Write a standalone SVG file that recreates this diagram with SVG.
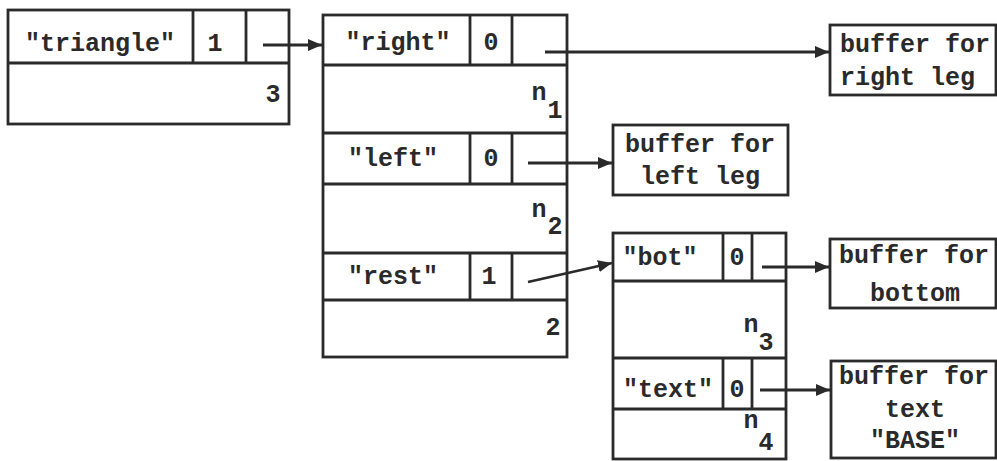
<svg xmlns="http://www.w3.org/2000/svg" width="997" height="461" viewBox="0 0 997 461">
<defs>
<style>
.b{fill:none;stroke:#2a2a2a;stroke-width:2.8}
.t{font-family:"Liberation Mono","DejaVu Sans Mono",monospace;font-weight:bold;font-size:25px;fill:#2a2a2a}
.m{text-anchor:middle}
.c{stroke:#2a2a2a;stroke-width:2.8;fill:none}
</style>
<marker id="ah" viewBox="0 0 14 12" refX="14" refY="6" markerWidth="14" markerHeight="12" markerUnits="userSpaceOnUse" orient="auto">
<path d="M0,0 L14,6 L0,12 Z" fill="#2a2a2a"/>
</marker>
</defs>
<rect width="997" height="461" fill="#fff"/>

<g id="triangle">
<rect class="b" x="8" y="10" width="281" height="114"/>
<path class="b" d="M8,63 H289 M193,10 V63 M246,10 V63"/>
<text class="t m" x="100" y="51">"triangle"</text>
<text class="t m" x="215" y="51">1</text>
<text class="t m" x="273" y="102">3</text>
</g>

<g id="parts">
<rect class="b" x="323" y="15" width="244" height="342"/>
<path class="b" d="M323,65 H567 M323,133 H567 M323,184 H567 M323,253 H567 M323,300 H567 M470,15 V65 M512,15 V65 M470,133 V184 M512,133 V184 M470,253 V300 M512,253 V300"/>
<text class="t m" x="398" y="50">"right"</text>
<text class="t m" x="491" y="50">0</text>
<text class="t m" x="539" y="100">n</text><text class="t m" x="555" y="118">1</text>
<text class="t m" x="393" y="166">"left"</text>
<text class="t m" x="491" y="166">0</text>
<text class="t m" x="539" y="217">n</text><text class="t m" x="555" y="234">2</text>
<text class="t m" x="393" y="284">"rest"</text>
<text class="t m" x="489" y="284">1</text>
<text class="t m" x="553" y="335">2</text>
</g>

<g id="rest">
<rect class="b" x="613" y="233" width="173" height="226"/>
<path class="b" d="M613,281 H786 M613,358 H786 M613,409 H786 M723,233 V281 M752,233 V281 M723,358 V409 M752,358 V409"/>
<text class="t m" x="660" y="265">"bot"</text>
<text class="t m" x="737" y="265">0</text>
<text class="t m" x="751" y="332">n</text><text class="t m" x="766" y="350">3</text>
<text class="t m" x="668" y="397">"text"</text>
<text class="t m" x="737" y="397">0</text>
<text class="t m" x="751" y="428">n</text><text class="t m" x="766" y="450">4</text>
</g>

<g id="buf-right">
<rect class="b" x="830" y="25" width="166" height="70"/>
<text class="t" x="840" y="52">buffer for</text>
<text class="t" x="840" y="85">right leg</text>
</g>

<g id="buf-left">
<rect class="b" x="613" y="125" width="175" height="70"/>
<text class="t m" x="700" y="152">buffer for</text>
<text class="t m" x="700" y="184">left leg</text>
</g>

<g id="buf-bottom">
<rect class="b" x="830" y="239" width="166" height="69"/>
<text class="t" x="839" y="263">buffer for</text>
<text class="t m" x="915" y="301">bottom</text>
</g>

<g id="buf-text">
<rect class="b" x="831" y="361" width="165" height="97"/>
<text class="t" x="839" y="384">buffer for</text>
<text class="t m" x="915" y="417">text</text>
<text class="t m" x="915" y="448">"BASE"</text>
</g>

<g id="connectors">
<line class="c" x1="263" y1="45" x2="322" y2="45" marker-end="url(#ah)"/>
<line class="c" x1="545" y1="52" x2="829" y2="52" marker-end="url(#ah)"/>
<line class="c" x1="528" y1="163" x2="612" y2="163" marker-end="url(#ah)"/>
<line class="c" x1="528" y1="282" x2="612" y2="263" marker-end="url(#ah)"/>
<line class="c" x1="762" y1="267" x2="829" y2="267" marker-end="url(#ah)"/>
<line class="c" x1="760" y1="390" x2="830" y2="390" marker-end="url(#ah)"/>
</g>
</svg>
